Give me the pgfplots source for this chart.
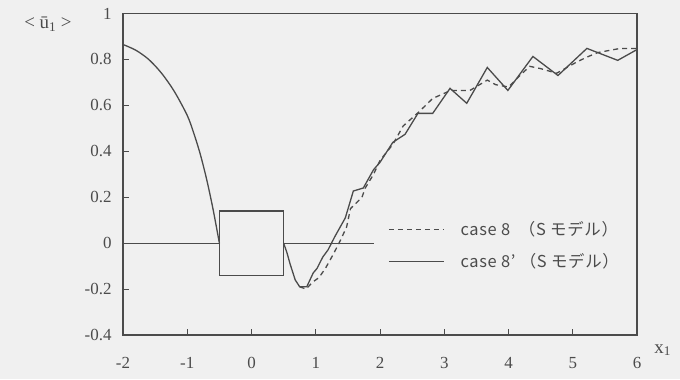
\documentclass[border=0pt]{standalone}
\usepackage{pgfplots}
\pgfplotsset{compat=1.18}
\usepackage{fontspec}
\setmainfont{Liberation Serif}
\newfontfamily\jpfont[LetterSpace=4]{Noto Sans CJK JP}
\usetikzlibrary{backgrounds}
\definecolor{ink}{RGB}{75,75,75}
\definecolor{paper}{RGB}{240,240,240}

\begin{document}
\begin{tikzpicture}
\begin{axis}[
  name=ax,
  scale only axis,
  width=514bp, height=321.5bp,
  xmin=-2, xmax=6, ymin=-0.4, ymax=1,
  xtick={-2,-1,0,1,2,3,4,5,6},
  ytick={-0.4,-0.2,0,0.2,0.4,0.6,0.8,1},
  tick pos=left, tick align=inside,
  major tick length=6bp,
  axis line style={ink, line width=1.3bp},
  every tick/.style={ink, line width=1bp},
  tick label style={font=\fontsize{17}{19}\selectfont, text=ink},
  /pgf/number format/assume math mode=true,
  xticklabel style={yshift=-19bp},
  yticklabel style={xshift=-8bp},
  every axis y label/.style={at={(rel axis cs:-0.146,0.967)}, anchor=center,
    font=\fontsize{19}{21}\selectfont, text=ink},
  every axis x label/.style={at={(rel axis cs:1.05,-0.047)}, anchor=center,
    font=\fontsize{19}{21}\selectfont, text=ink},
  ylabel={<\ ū\textsubscript{1}\ >},
  xlabel={x\textsubscript{1}},
  legend style={draw=none, fill=none, at={(rel axis cs:0.51,0.365)},
    anchor=north west, font=\jpfont\fontsize{16.5}{18}\selectfont,
    text=ink, row sep=12bp,
    /tikz/every odd column/.append style={column sep=14bp}},
  legend cell align=left,
  legend image code/.code={\draw[#1] (0bp,0bp) -- (55bp,0bp);},
  every axis plot/.append style={ink, line width=1.3bp, mark=none},
]
% case 8 (dashed)
\addplot[ink, dash pattern=on 5bp off 4bp] coordinates {
  (0.75,-0.19) (0.85,-0.20) (0.95,-0.17) (1.05,-0.15) (1.15,-0.11)
  (1.27,-0.05) (1.38,0.01) (1.48,0.07) (1.54,0.15) (1.72,0.20)
  (1.77,0.24) (1.90,0.30) (2.00,0.36) (2.20,0.43) (2.36,0.51)
  (2.60,0.57) (2.82,0.63) (3.10,0.665) (3.40,0.665) (3.67,0.71)
  (3.80,0.69) (4.00,0.68) (4.18,0.73) (4.33,0.77) (4.50,0.76)
  (4.75,0.74) (5.07,0.79) (5.22,0.81) (5.39,0.83) (5.74,0.848)
  (6.00,0.848)
};
\addlegendentry{case 8\ \ （S モデル）}
% case 8' (solid), downstream of the block
\addplot[ink, solid] coordinates {
  (0.50,0.00) (0.55,-0.04) (0.60,-0.09) (0.68,-0.16) (0.75,-0.19)
  (0.86,-0.19) (0.96,-0.13) (1.02,-0.11) (1.11,-0.06) (1.19,-0.03)
  (1.30,0.03) (1.46,0.11) (1.585,0.227) (1.74,0.24) (1.90,0.32)
  (2.00,0.352) (2.20,0.439) (2.39,0.474) (2.59,0.565) (2.82,0.565)
  (3.09,0.674) (3.35,0.609) (3.67,0.765) (3.99,0.665) (4.38,0.813)
  (4.77,0.730) (5.22,0.848) (5.70,0.796) (6.00,0.843)
};
\addlegendentry{case 8’ （S モデル）}
% upstream of the block
\addplot[ink, smooth, forget plot] coordinates {
  (-2.00,0.865) (-1.80,0.840) (-1.60,0.800) (-1.40,0.740) (-1.20,0.660)
  (-1.00,0.556) (-0.90,0.480) (-0.80,0.390) (-0.70,0.280) (-0.60,0.150)
  (-0.50,0.000)
};
% zero line and the square block
\addplot[ink, forget plot, line width=1bp] coordinates {(-2,0) (-0.5,0)};
\addplot[ink, forget plot, line width=1bp] coordinates {(0.5,0) (1.9,0)};
\addplot[ink, forget plot] coordinates {
  (-0.5,-0.14) (0.5,-0.14) (0.5,0.14) (-0.5,0.14) (-0.5,-0.14)
};
\end{axis}
\begin{scope}[on background layer]
  \pgfresetboundingbox
  \path[use as bounding box, fill=paper]
    ([shift={(-123bp,-44bp)}]ax.south west) rectangle
    ([shift={(43bp,13.5bp)}]ax.north east);
\end{scope}
\end{tikzpicture}
\end{document}
